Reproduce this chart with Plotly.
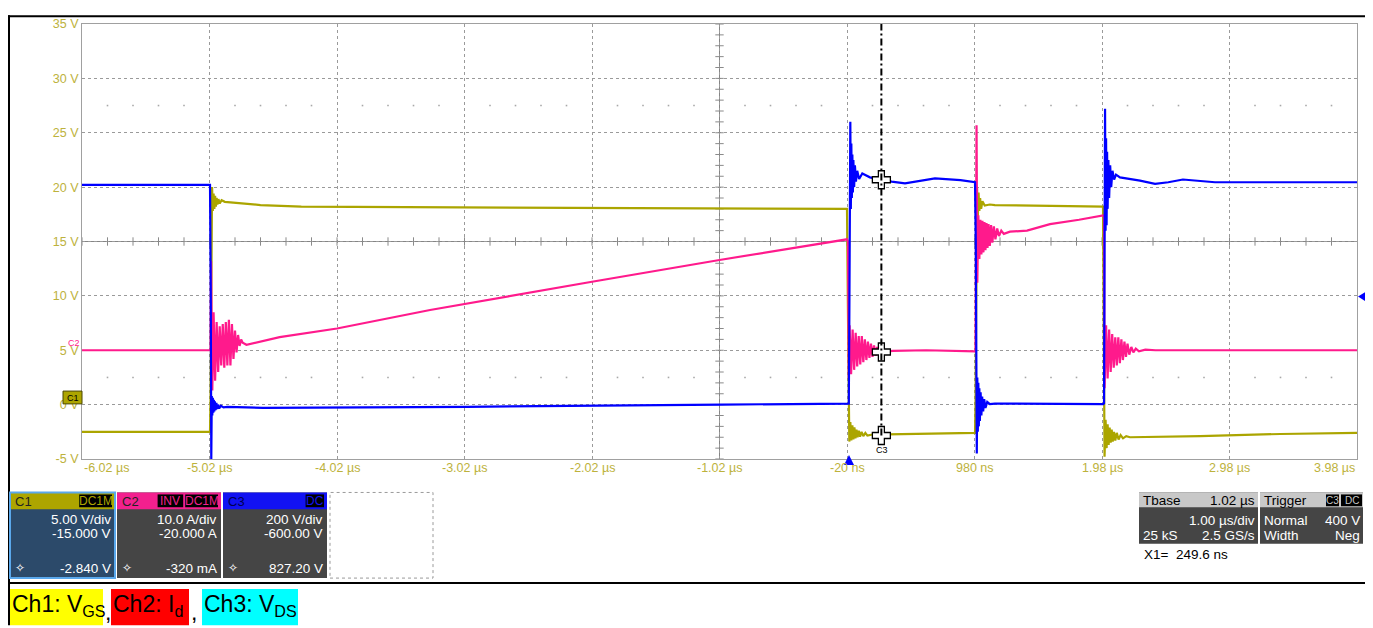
import plotly.graph_objects as go

# ---------------- axis / tick data ----------------
x_ticks = [-6.02, -5.02, -4.02, -3.02, -2.02, -1.02, -0.02, 0.98, 1.98, 2.98, 3.98]
x_tick_labels = ["-6.02 µs", "-5.02 µs", "-4.02 µs", "-3.02 µs", "-2.02 µs", "-1.02 µs",
                 "-20 ns", "980 ns", "1.98 µs", "2.98 µs", "3.98 µs"]
y_ticks = [-5, 0, 5, 10, 15, 20, 25, 30, 35]
y_tick_labels = ["-5 V", "0 V", "5 V", "10 V", "15 V", "20 V", "25 V", "30 V", "35 V"]

# channel settings: (name, scale per div, centre value = -offset)
ch_names = ["C1", "C2", "C3"]
ch_scale = [5.0, 10.0, 200.0]
ch_center = [15.0, 20.0, 600.0]

# ---------------- waveform data (time in µs) ----------------
# Ch1: VGS [V]
c1_pts = [(-6.02, -2.5), (-5.016, -2.5), (-5.012, 0.5), (-5.008, 12.0), (-5.004, 19.0), (-5.000, 20.0),
          (-4.994, 17.8), (-4.988, 19.4), (-4.982, 18.0), (-4.976, 19.2), (-4.970, 18.2), (-4.964, 19.0),
          (-4.958, 18.4), (-4.950, 18.9), (-4.940, 18.5), (-4.925, 18.8), (-4.90, 18.65), (-4.85, 18.6),
          (-4.78, 18.55), (-4.62, 18.35), (-4.30, 18.2), (-3.29, 18.15), (-2.00, 18.05), (-0.020, 18.0),
          (-0.014, 10.1), (-0.010, 3.0), (-0.006, -1.5), (-0.002, -3.4), (0.006, -1.6), (0.014, -3.3),
          (0.022, -1.9), (0.030, -3.2), (0.038, -2.1), (0.046, -3.1), (0.054, -2.3), (0.062, -3.0),
          (0.072, -2.4), (0.082, -2.95), (0.094, -2.5), (0.108, -2.9), (0.124, -2.6), (0.140, -2.85),
          (0.180, -2.75), (0.500, -2.7), (0.984, -2.6), (0.988, 0.0), (0.992, 11.0), (0.996, 19.0),
          (1.000, 20.0), (1.006, 17.2), (1.012, 19.5), (1.018, 17.8), (1.024, 19.0), (1.032, 18.0),
          (1.042, 18.7), (1.060, 18.3), (1.100, 18.4), (1.140, 18.35), (1.500, 18.3), (1.960, 18.2),
          (1.988, 18.2), (1.992, 10.5), (1.996, -1.0), (2.000, -4.8), (2.008, -1.4), (2.016, -4.0),
          (2.024, -1.8), (2.032, -3.7), (2.040, -2.1), (2.048, -3.5), (2.056, -2.3), (2.064, -3.4),
          (2.074, -2.5), (2.084, -3.3), (2.096, -2.6), (2.110, -3.2), (2.126, -2.8), (2.145, -3.1),
          (2.170, -2.9), (2.200, -3.0), (2.750, -2.9), (3.380, -2.7), (3.980, -2.6)]

# Ch2: Id [A]
c2_pts = [(-6.02, 0.0), (-5.012, 0.0), (-5.008, 16.4), (-4.998, -7.4), (-4.988, 7.0), (-4.976, -5.6),
          (-4.964, 5.2), (-4.952, -4.0), (-4.940, 4.4), (-4.928, -2.8), (-4.916, 4.8), (-4.904, -3.2),
          (-4.892, 5.2), (-4.880, -2.8), (-4.868, 5.6), (-4.856, -2.8), (-4.844, 4.8), (-4.832, -1.6),
          (-4.820, 3.6), (-4.808, -0.4), (-4.796, 2.8), (-4.784, 0.8), (-4.772, 2.0), (-4.760, 1.4),
          (-4.73, 1.0), (-4.47, 2.4), (-4.02, 4.0), (-3.68, 5.6), (-3.29, 7.4), (-2.02, 12.6),
          (-1.02, 16.6), (-0.020, 20.4), (-0.012, 20.0), (-0.006, -5.2), (0.000, 4.6), (0.012, -4.4),
          (0.024, 3.8), (0.036, -3.6), (0.048, 3.2), (0.060, -3.0), (0.072, 2.6), (0.084, -2.6),
          (0.096, 2.6), (0.108, -2.2), (0.120, 2.0), (0.132, -1.8), (0.144, 1.6), (0.156, -1.4),
          (0.168, 1.2), (0.180, -1.2), (0.192, 0.9), (0.204, -1.0), (0.216, 0.6), (0.228, -0.8),
          (0.240, 0.2), (0.260, -0.6), (0.300, -0.2), (0.340, -0.1), (0.600, 0.0), (0.984, -0.2),
          (0.988, 0.0), (0.992, 20.0), (0.996, 41.4), (1.002, 12.4), (1.010, 24.8), (1.018, 16.8),
          (1.026, 24.0), (1.034, 17.6), (1.042, 23.8), (1.050, 18.0), (1.058, 23.6), (1.066, 18.4),
          (1.074, 23.4), (1.082, 18.8), (1.090, 23.2), (1.100, 19.2), (1.110, 23.0), (1.120, 19.8),
          (1.132, 22.8), (1.144, 20.4), (1.158, 22.4), (1.172, 21.0), (1.190, 22.0), (1.210, 21.4),
          (1.258, 21.8), (1.392, 22.0), (1.572, 23.2), (1.800, 24.0), (1.988, 24.8), (1.996, 24.6),
          (2.000, -7.0), (2.012, 4.6), (2.024, -5.2), (2.036, 3.8), (2.048, -4.0), (2.060, 3.0),
          (2.072, -3.2), (2.084, 2.4), (2.096, -2.8), (2.108, 2.4), (2.120, -2.4), (2.132, 2.0),
          (2.144, -1.8), (2.156, 1.6), (2.168, -1.2), (2.180, 1.2), (2.194, -0.8), (2.210, 0.6),
          (2.226, -0.4), (2.245, 0.3), (2.270, -0.2), (2.320, 0.1), (2.400, 0.0), (3.980, 0.0)]

# Ch3: VDS [V]
c3_pts = [(-6.02, 808), (-5.016, 808), (-5.010, 400), (-5.006, -200), (-5.002, 32), (-4.998, -40),
          (-4.994, 25), (-4.990, -30), (-4.986, 18), (-4.982, -25), (-4.978, 12), (-4.972, -20),
          (-4.966, 6), (-4.960, -16), (-4.952, 0), (-4.944, -14), (-4.930, -4), (-4.910, -10),
          (-4.880, -8), (-4.600, -12), (-3.000, -8), (-1.000, 0), (-0.020, 4), (-0.006, 4),
          (-0.002, 300), (0.002, 700), (0.006, 1040), (0.010, 720), (0.014, 960), (0.018, 760),
          (0.022, 920), (0.026, 780), (0.030, 900), (0.036, 800), (0.042, 880), (0.050, 820),
          (0.060, 860), (0.075, 830), (0.100, 850), (0.160, 836), (0.240, 828), (0.330, 820),
          (0.435, 814), (0.550, 824), (0.670, 832), (0.870, 826), (0.984, 818), (0.990, 600),
          (0.994, 100), (0.998, -180), (1.002, 100), (1.006, -100), (1.010, 80), (1.014, -80),
          (1.018, 60), (1.022, -60), (1.028, 45), (1.034, -40), (1.040, 30), (1.048, -25),
          (1.056, 20), (1.066, -12), (1.080, 10), (1.100, 2), (1.140, 4), (1.500, 4), (1.990, 2),
          (1.996, 5), (2.000, 500), (2.004, 1088), (2.008, 640), (2.012, 980), (2.016, 660),
          (2.020, 930), (2.024, 720), (2.030, 900), (2.036, 760), (2.044, 880), (2.052, 800),
          (2.062, 860), (2.075, 828), (2.090, 846), (2.121, 836), (2.200, 830), (2.278, 824),
          (2.396, 812), (2.500, 818), (2.615, 828), (2.750, 822), (2.866, 818), (3.200, 818),
          (3.980, 818)]

# cursor X1 and readouts
cursor_t = 0.2496
cursor_vals = [-2.840, -0.320, 827.20]

# info panel texts
ch_header_tags = [["DC1M"], ["INV", "DC1M"], ["DC"]]
ch_lines = [["5.00 V/div", "-15.000 V", "-2.840 V"],
            ["10.0 A/div", "-20.000 A", "-320 mA"],
            ["200 V/div", "-600.00 V", "827.20 V"]]
tbase_texts = ["Tbase", "1.02 µs", "1.00 µs/div", "25 kS", "2.5 GS/s"]
trig_texts = ["Trigger", "Normal", "400 V", "Width", "Neg"]
legend_texts = ["Ch1: V<sub>GS</sub>", "Ch2: I<sub>d</sub>", "Ch3: V<sub>DS</sub>"]

# ---------------- styling ----------------
COL = ["#ABA500", "#FF1A8C", "#0000FF"]
HEAD = ["#ADA500", "#F2208E", "#1212F2"]
LBL = "#BDB23C"
GRID = "#9A9A9A"
FONT = "Liberation Sans"

# page offset (browser body margin) and plot area in screenshot pixels
OFF = 8
L, T, R, B = 82, 17, 1357, 459
W, H = 1373 - OFF, 628 - OFF


def fx(px):
    return (px - L) / (R - L)


def fy(py):
    return (B - py) / (B - T)


def disp(i, v):
    return 15 + (v - ch_center[i]) / ch_scale[i] * 5


fig = go.Figure()

# minor grid dots / centre ticks
minor_x = [-6.02 + 0.2 * k for k in range(51)]
dot_x = [x for k, x in enumerate(minor_x) if k % 5 != 0]
for yrow in (27.5, 2.5):
    fig.add_trace(go.Scatter(x=dot_x, y=[yrow] * len(dot_x), mode="markers",
                             marker=dict(symbol="square", size=1.6, color="#A8A8A8"),
                             hoverinfo="skip", showlegend=False))
fig.add_trace(go.Scatter(x=minor_x, y=[15] * len(minor_x), mode="markers",
                         marker=dict(symbol="line-ns", size=6, line=dict(width=1, color="#8A8A8A")),
                         hoverinfo="skip", showlegend=False))
minor_y = [-5 + k for k in range(41)]
fig.add_trace(go.Scatter(x=[-1.02] * len(minor_y), y=minor_y, mode="markers",
                         marker=dict(symbol="line-ew", size=6, line=dict(width=1, color="#8A8A8A")),
                         hoverinfo="skip", showlegend=False))

# waveforms
for i, pts in enumerate([c1_pts, c2_pts, c3_pts]):
    ts = [p[0] for p in pts]
    vs = [disp(i, p[1]) for p in pts]
    fig.add_trace(go.Scatter(x=ts, y=vs, mode="lines", line=dict(color=COL[i], width=2.2),
                             name=ch_names[i], hoverinfo="skip", showlegend=False))

# cursor crosses
cross_y = [disp(i, v) for i, v in enumerate(cursor_vals)]
fig.add_trace(go.Scatter(x=[cursor_t] * 3, y=cross_y, mode="markers",
                         marker=dict(symbol="cross", size=15, color="white",
                                     line=dict(color="black", width=1.3)),
                         hoverinfo="skip", showlegend=False, cliponaxis=False))

shapes = []
# centre lines
shapes.append(dict(type="line", xref="x", yref="y", x0=-1.02, x1=-1.02, y0=-5, y1=35,
                   line=dict(color="#858585", width=1), layer="below"))
shapes.append(dict(type="line", xref="x", yref="y", x0=-6.02, x1=3.98, y0=15, y1=15,
                   line=dict(color="#858585", width=1), layer="below"))
# cursor line
shapes.append(dict(type="line", xref="x", yref="y", x0=cursor_t, x1=cursor_t, y0=cross_y[0], y1=35,
                   line=dict(color="black", width=2, dash="7px,3px,2px,3px")))


def rect(x0, y0, x1, y1, fill, line=None, lw=0, dash=None):
    d = dict(type="rect", xref="paper", yref="paper", x0=fx(x0), x1=fx(x1), y0=fy(y1), y1=fy(y0),
             fillcolor=fill, line=dict(width=lw, color=line or fill))
    if dash:
        d["line"]["dash"] = dash
    shapes.append(d)


def pline(x0, y0, x1, y1, color="black", width=2):
    shapes.append(dict(type="line", xref="paper", yref="paper", x0=fx(x0), x1=fx(x1),
                       y0=fy(y0), y1=fy(y1), line=dict(color=color, width=width)))


def tri(pts, color):
    path = "M " + " L ".join(f"{fx(a)},{fy(b)}" for a, b in pts) + " Z"
    shapes.append(dict(type="path", xref="paper", yref="paper", path=path,
                       fillcolor=color, line=dict(width=0)))


ann = []


def text(px, py, s, size=13, color="white", anchor="left", family=FONT):
    ann.append(dict(xref="paper", yref="paper", x=fx(px), y=fy(py), text=s, showarrow=False,
                    xanchor=anchor, yanchor="middle", font=dict(size=size, color=color, family=family),
                    borderpad=0))


# outer frame
pline(8, 9, 1366, 9)
pline(9, 8, 9, 628)
pline(1366, 8, 1366, 628)
pline(8, 585, 1366, 585)

# trigger markers
tri([(1358, 294), (1366, 289), (1366, 299)], "#0000FF")
tri([(849, 455), (844, 465), (854, 465)], "#0000FF")

# left channel markers
rect(63, 390, 82, 403, "#ADA500", line="#4A4700", lw=1)
text(72.5, 397, "C1", size=9, color="black", anchor="center")
text(74, 341, "C2", size=9, color=COL[1], anchor="center")
text(882, 450, "C3", size=9, color="black", anchor="center")

# x tick labels
for t, s in zip(x_ticks, x_tick_labels):
    anc = "center"
    if t == x_ticks[0]:
        anc = "left"
    elif t == x_ticks[-1]:
        anc = "right"
    ann.append(dict(xref="x", yref="paper", x=t, y=fy(468), text=s, showarrow=False,
                    xanchor=anc, yanchor="middle", font=dict(size=12.5, color=LBL, family=FONT)))

# channel info boxes
box_x = [(10, 115), (117, 221), (223, 327)]
for i in range(3):
    x0, x1 = box_x[i]
    body = "#2C4A6A" if i == 0 else "#454545"
    rect(x0, 493, x1, 580, body)
    rect(x0, 493, x1, 510, HEAD[i])
    if i == 0:
        rect(x0, 493, x1, 580, "rgba(0,0,0,0)", line="#5AA8EC", lw=2)
    text(x0 + 4, 502, ch_names[i], size=13, color="#000050" if i == 2 else "#222222")
    xr = x1 - 3
    for tag in reversed(ch_header_tags[i]):
        wtag = 7.2 * len(tag) + 4
        rect(xr - wtag, 495, xr, 508, "black")
        text(xr - wtag / 2, 501.5, tag, size=12, color=HEAD[i], anchor="center")
        xr -= wtag + 2
    text(x1 - 3, 520, ch_lines[i][0], size=13.5, anchor="right")
    text(x1 - 3, 535, ch_lines[i][1], size=13.5, anchor="right")
    text(x1 - 3, 570, ch_lines[i][2], size=13.5, anchor="right")
    text(x0 + 4, 570, "✧", size=12, color="white")
rect(330, 493, 433, 580, "rgba(0,0,0,0)", line="#9A9A9A", lw=1, dash="dot")

# timebase / trigger boxes
rect(1139, 493, 1258, 545, "#454545")
rect(1139, 493, 1258, 508, "#C8C8C8")
rect(1260, 493, 1363, 545, "#454545")
rect(1260, 493, 1363, 508, "#C8C8C8")
text(1142, 501, tbase_texts[0], size=13.5, color="black")
text(1256, 501, tbase_texts[1], size=13.5, color="black", anchor="right")
text(1256, 521, tbase_texts[2], size=13.5, anchor="right")
text(1142, 537, tbase_texts[3], size=13.5)
text(1256, 537, tbase_texts[4], size=13.5, anchor="right")
text(1263, 501, trig_texts[0], size=13.5, color="black")
rect(1326, 495, 1339, 507, "black")
text(1332.5, 501, "C3", size=10, color="#C8C8C8", anchor="center")
rect(1341, 495, 1362, 507, "black")
text(1351.5, 501, "DC", size=10, color="#C8C8C8", anchor="center")
text(1263, 521, trig_texts[1], size=13.5)
text(1361, 521, trig_texts[2], size=13.5, anchor="right")
text(1263, 537, trig_texts[3], size=13.5)
text(1361, 537, trig_texts[4], size=13.5, anchor="right")
text(1143, 556, "X1=  249.6 ns", size=13.5, color="black")

# legend row
leg_boxes = [(10, 103, "#FFFF00"), (111, 189, "#FF0000"), (202, 298, "#00FFFF")]
for (x0, x1, c), s in zip(leg_boxes, legend_texts):
    rect(x0, 591, x1, 628, c)
    text(x0 + 1, 608, s, size=23, color="black")
text(104, 614, ",", size=23, color="black")
text(190, 614, ",", size=23, color="black")

fig.update_layout(
    width=W, height=H, autosize=False,
    margin=dict(l=L - OFF, r=W - (R - OFF), t=T - OFF, b=H - (B - OFF), pad=0),
    paper_bgcolor="white", plot_bgcolor="white",
    shapes=shapes, annotations=ann, hovermode=False,
    font=dict(family=FONT),
    xaxis=dict(range=[-6.02, 3.98], tickvals=x_ticks, showticklabels=False, ticks="",
               showgrid=True, gridcolor=GRID, griddash="dot", gridwidth=1, zeroline=False,
               showline=True, mirror=True, linecolor="#A0A0A0", linewidth=1, fixedrange=True),
    yaxis=dict(range=[-5, 35], tickvals=y_ticks, ticktext=y_tick_labels, ticks="",
               tickfont=dict(size=12.5, color=LBL, family=FONT),
               showgrid=True, gridcolor=GRID, griddash="dot", gridwidth=1, zeroline=False,
               showline=True, mirror=True, linecolor="#A0A0A0", linewidth=1, fixedrange=True),
)

fig.write_html("out.html", config={"displayModeBar": False, "staticPlot": True})
